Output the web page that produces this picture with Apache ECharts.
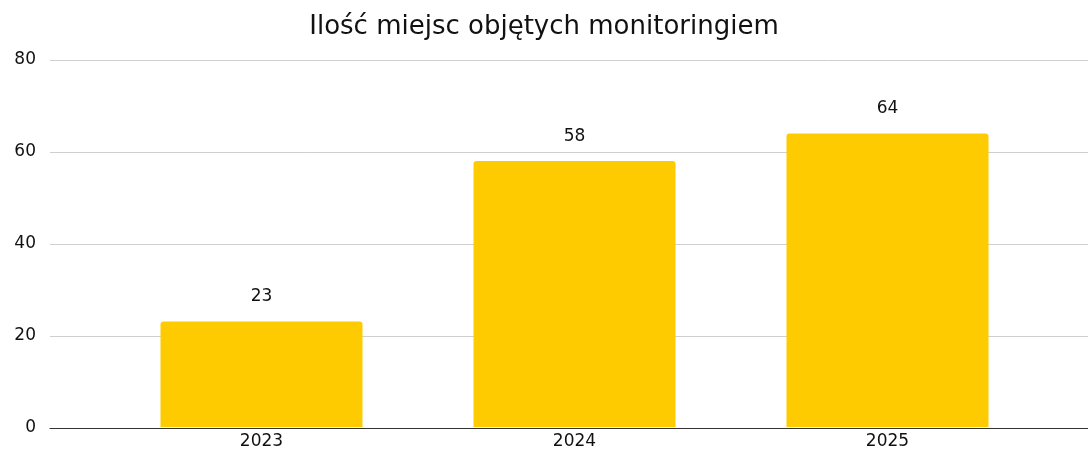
<!DOCTYPE html>
<html>
<head>
<meta charset="utf-8">
<script src="https://cdn.jsdelivr.net/npm/echarts@6/dist/echarts.min.js"></script>
<style>
  html, body { margin: 0; padding: 0; background: #fff; }
  #chart { width: 1088px; height: 450px; }
</style>
</head>
<body>
<div id="chart"></div>
<script>
// dane wykresu
const categories = ['2023', '2024', '2025'];
const values = [23, 58, 64];
const yTicks = [0, 20, 40, 60, 80];

const chart = echarts.init(document.getElementById('chart'));
const font = '"DejaVu Sans", Arial, sans-serif';

const option = {
  animation: false,
  title: {
    text: 'Ilość miejsc objętych monitoringiem',
    left: 'center',
    top: 9,
    textStyle: { fontFamily: font, fontSize: 26, fontWeight: 'normal', color: '#111' },
  },
  grid: [
    // siatka i oś Y na całą szerokość
    { left: 50, right: 0, top: 60, bottom: 22 },
    // słupki w węższym obszarze
    { left: 105, right: 44, top: 60, bottom: 22 },
  ],
  xAxis: [
    {
      gridIndex: 0,
      type: 'category',
      data: [''],
      axisLine: { show: true, lineStyle: { color: '#333', width: 1.2 } },
      axisTick: { show: false },
      axisLabel: { show: false },
    },
    {
      gridIndex: 1,
      type: 'category',
      data: categories,
      axisLine: { show: false },
      axisTick: { show: false },
      axisLabel: { fontFamily: font, fontSize: 17, color: '#111', margin: 6 },
    },
  ],
  yAxis: [
    {
      gridIndex: 0,
      type: 'value',
      min: yTicks[0],
      max: yTicks[yTicks.length - 1],
      interval: 20,
      axisLine: { show: false },
      axisTick: { show: false },
      axisLabel: { fontFamily: font, fontSize: 17, color: '#111', margin: 14 },
      splitLine: { lineStyle: { color: '#cfcfcf', width: 1 } },
    },
    {
      gridIndex: 1,
      type: 'value',
      min: yTicks[0],
      max: yTicks[yTicks.length - 1],
      interval: 20,
      show: false,
      splitLine: { show: false },
    },
  ],
  series: [
    {
      type: 'bar',
      xAxisIndex: 1,
      yAxisIndex: 1,
      data: values,
      barWidth: 202,
      itemStyle: { color: '#FDCB00', borderRadius: [3, 3, 0, 0] },
      label: {
        show: true,
        position: 'top',
        distance: 16,
        fontFamily: font,
        fontSize: 17,
        color: '#111',
      },
    },
  ],
};

chart.setOption(option);
</script>
</body>
</html>
